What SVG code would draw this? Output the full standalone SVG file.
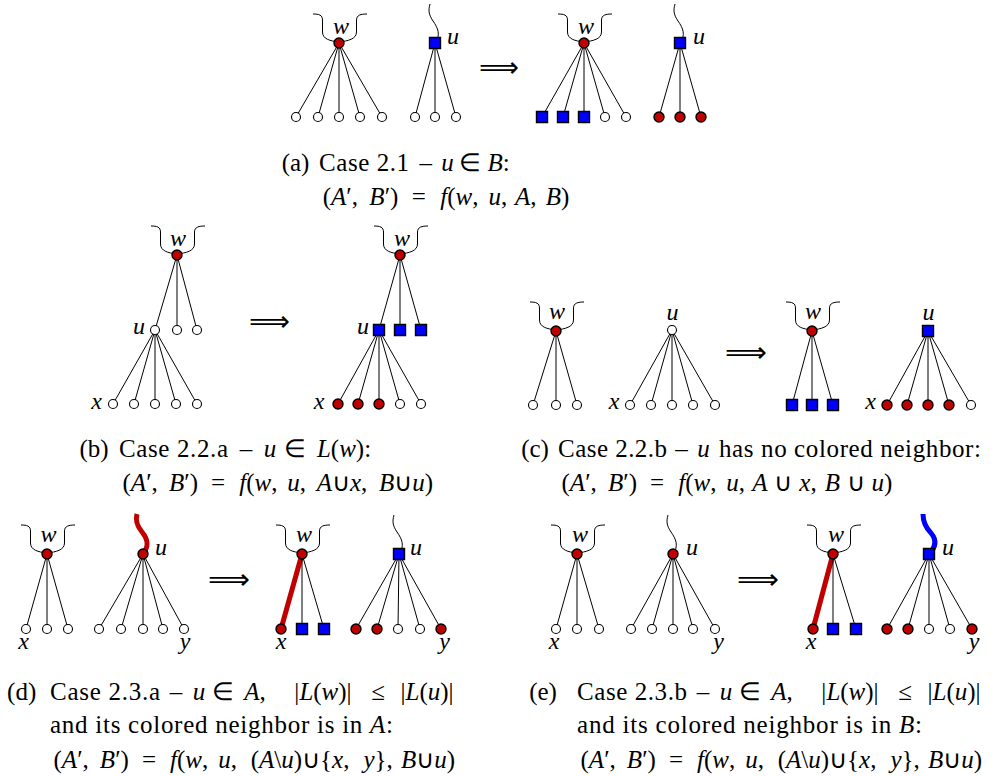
<svg xmlns="http://www.w3.org/2000/svg" width="995" height="776" viewBox="0 0 995 776">
<style>
.e{stroke:#000;stroke-width:1;fill:none}
.tr{stroke:#c00000;stroke-width:5;fill:none}
.tb{stroke:#0000ff;stroke-width:5;fill:none}
.br{stroke:#000;stroke-width:1;fill:none}
.R{fill:#c00000;stroke:#000;stroke-width:1.4}
.B{fill:#0000ff;stroke:#000;stroke-width:1.4}
.W{fill:#fff;stroke:#000;stroke-width:1.1}
.lab{font-family:"Liberation Serif",serif;font-style:italic;font-size:24px;text-anchor:middle;fill:#000}
.cap{font-family:"Liberation Serif",serif;font-size:25px;fill:#000}
.mid{text-anchor:middle}
.i{font-style:italic}
.arr{font-family:"DejaVu Sans",sans-serif;font-size:29px;fill:#000}
</style>
<defs>
<path id="brace" class="br" d="M-26,-29 C-20,-29 -16.5,-28 -16.5,-23 L-16.5,-11 C-16.5,-4 -9,-2 0,-1 C9,-2 17.5,-4 17.5,-11 L17.5,-23 C17.5,-28 22,-29 28,-29"/>
<path id="wavy" class="br" d="M-5,-39 C-7,-32 -6,-28 -2,-22 C3,-15 6,-8 0,0"/>
<path id="sq" d="M-5.5,-5.5 h11 v11 h-11 z"/>
</defs>

<g id="connectors">
<path class="e" d="M339,43 L296,117 M339,43 L318,117 M339,43 L339,117 M339,43 L360,117 M339,43 L382,117"/>
<path class="e" d="M435,43 L415,117 M435,43 L435,117 M435,43 L456,117"/>
<path class="e" d="M584,43 L542,117 M584,43 L563,117 M584,43 L584,117 M584,43 L605,117 M584,43 L626,117"/>
<path class="e" d="M680,43 L659,117 M680,43 L680,117 M680,43 L701,117"/>
<path class="e" d="M177,255 L155,330 M177,255 L177,330 M177,255 L197,330"/>
<path class="e" d="M155,330 L113,404 M155,330 L134,404 M155,330 L155,404 M155,330 L176,404 M155,330 L197,404"/>
<path class="e" d="M400,255 L379,330 M400,255 L400,330 M400,255 L421,330"/>
<path class="e" d="M379,330 L338,404 M379,330 L358,404 M379,330 L379,404 M379,330 L400,404 M379,330 L421,404"/>
<path class="e" d="M556,331 L533,405 M556,331 L556,405 M556,331 L577,405"/>
<path class="e" d="M672,330 L630,405 M672,330 L651,405 M672,330 L672,405 M672,330 L693,405 M672,330 L715,405"/>
<path class="e" d="M812,331 L792,405 M812,331 L812,405 M812,331 L833,405"/>
<path class="e" d="M928,331 L887,405 M928,331 L907,405 M928,331 L928,405 M928,331 L949,405 M928,331 L971,405"/>
<path class="e" d="M47,554 L26,629 M47,554 L47,629 M47,554 L68,629"/>
<path class="e" d="M143,554 L99,629 M143,554 L121,629 M143,554 L143,629 M143,554 L163,629 M143,554 L184,629"/>
<path class="tr" d="M302,554 L281,629"/>
<path class="e" d="M302,554 L302,629 M302,554 L324,629"/>
<path class="e" d="M399,554 L356,629 M399,554 L377,629 M399,554 L398,629 M399,554 L420,629 M399,554 L441,629"/>
<path class="e" d="M577,554 L556,629 M577,554 L577,629 M577,554 L599,629"/>
<path class="e" d="M673,554 L631,629 M673,554 L652,629 M673,554 L673,629 M673,554 L693,629 M673,554 L715,629"/>
<path class="tr" d="M833,554 L813,629"/>
<path class="e" d="M833,554 L833,629 M833,554 L856,629"/>
<path class="e" d="M929,554 L887,629 M929,554 L908,629 M929,554 L929,629 M929,554 L950,629 M929,554 L972,629"/>
<text class="arr" x="479" y="77" textLength="40" lengthAdjust="spacingAndGlyphs">⟹</text>
<text class="arr" x="249" y="331" textLength="41" lengthAdjust="spacingAndGlyphs">⟹</text>
<text class="arr" x="725" y="362" textLength="42" lengthAdjust="spacingAndGlyphs">⟹</text>
<text class="arr" x="208" y="589" textLength="42" lengthAdjust="spacingAndGlyphs">⟹</text>
<text class="arr" x="737" y="589" textLength="42" lengthAdjust="spacingAndGlyphs">⟹</text>
</g>

<g id="a-w1"><use href="#brace" x="339" y="43"/><circle class="R" cx="339" cy="43" r="5"/><text class="lab" x="341" y="33.5">w</text></g>
<g id="a-w1-leaves"><circle class="W" cx="296" cy="117" r="4.5"/><circle class="W" cx="318" cy="117" r="4.5"/><circle class="W" cx="339" cy="117" r="4.5"/><circle class="W" cx="360" cy="117" r="4.5"/><circle class="W" cx="382" cy="117" r="4.5"/></g>
<g id="a-u1"><use href="#wavy" x="435" y="43"/><use href="#sq" class="B" x="435" y="43"/><text class="lab" x="453" y="43.5">u</text></g>
<g id="a-u1-leaves"><circle class="W" cx="415" cy="117" r="4.5"/><circle class="W" cx="435" cy="117" r="4.5"/><circle class="W" cx="456" cy="117" r="4.5"/></g>
<g id="a-w2"><use href="#brace" x="584" y="43"/><circle class="R" cx="584" cy="43" r="5"/><text class="lab" x="586" y="33.5">w</text></g>
<g id="a-w2-leaves"><use href="#sq" class="B" x="542" y="117"/><use href="#sq" class="B" x="563" y="117"/><use href="#sq" class="B" x="584" y="117"/><circle class="W" cx="605" cy="117" r="4.5"/><circle class="W" cx="626" cy="117" r="4.5"/></g>
<g id="a-u2"><use href="#wavy" x="680" y="43"/><use href="#sq" class="B" x="680" y="43"/><text class="lab" x="699" y="43.5">u</text></g>
<g id="a-u2-leaves"><circle class="R" cx="659" cy="117" r="5"/><circle class="R" cx="680" cy="117" r="5"/><circle class="R" cx="701" cy="117" r="5"/></g>

<g id="b-w1"><use href="#brace" x="177" y="255"/><circle class="R" cx="177" cy="255" r="5"/><text class="lab" x="178" y="246">w</text></g>
<g id="b-u1"><circle class="W" cx="155" cy="330" r="4.5"/><text class="lab" x="139" y="333.5">u</text></g>
<g id="b-w1-leaves"><circle class="W" cx="177" cy="330" r="4.5"/><circle class="W" cx="197" cy="330" r="4.5"/></g>
<g id="b-u1-leaves"><circle class="W" cx="113" cy="404" r="4.5"/><circle class="W" cx="134" cy="404" r="4.5"/><circle class="W" cx="155" cy="404" r="4.5"/><circle class="W" cx="176" cy="404" r="4.5"/><circle class="W" cx="197" cy="404" r="4.5"/><text class="lab" x="96.5" y="409">x</text></g>
<g id="b-w2"><use href="#brace" x="400" y="255"/><circle class="R" cx="400" cy="255" r="5"/><text class="lab" x="402" y="246">w</text></g>
<g id="b-u2"><use href="#sq" class="B" x="379" y="330"/><text class="lab" x="363" y="333.5">u</text></g>
<g id="b-w2-leaves"><use href="#sq" class="B" x="400" y="330"/><use href="#sq" class="B" x="421" y="330"/></g>
<g id="b-u2-leaves"><circle class="R" cx="338" cy="404" r="5"/><circle class="R" cx="358" cy="404" r="5"/><circle class="R" cx="379" cy="404" r="5"/><circle class="W" cx="400" cy="404" r="4.5"/><circle class="W" cx="421" cy="404" r="4.5"/><text class="lab" x="319" y="409">x</text></g>

<g id="c-w1"><use href="#brace" x="556" y="331"/><circle class="R" cx="556" cy="331" r="5"/><text class="lab" x="557" y="319">w</text></g>
<g id="c-w1-leaves"><circle class="W" cx="533" cy="405" r="4.5"/><circle class="W" cx="556" cy="405" r="4.5"/><circle class="W" cx="577" cy="405" r="4.5"/></g>
<g id="c-u1"><circle class="W" cx="672" cy="330" r="4.5"/><text class="lab" x="672.5" y="319.5">u</text></g>
<g id="c-u1-leaves"><circle class="W" cx="630" cy="405" r="4.5"/><circle class="W" cx="651" cy="405" r="4.5"/><circle class="W" cx="672" cy="405" r="4.5"/><circle class="W" cx="693" cy="405" r="4.5"/><circle class="W" cx="715" cy="405" r="4.5"/><text class="lab" x="614" y="409">x</text></g>
<g id="c-w2"><use href="#brace" x="812" y="331"/><circle class="R" cx="812" cy="331" r="5"/><text class="lab" x="813" y="319">w</text></g>
<g id="c-w2-leaves"><use href="#sq" class="B" x="792" y="405"/><use href="#sq" class="B" x="812" y="405"/><use href="#sq" class="B" x="833" y="405"/></g>
<g id="c-u2"><use href="#sq" class="B" x="928" y="331"/><text class="lab" x="928.5" y="319.5">u</text></g>
<g id="c-u2-leaves"><circle class="R" cx="887" cy="405" r="5"/><circle class="R" cx="907" cy="405" r="5"/><circle class="R" cx="928" cy="405" r="5"/><circle class="R" cx="949" cy="405" r="5"/><circle class="W" cx="971" cy="405" r="4.5"/><text class="lab" x="870.5" y="409">x</text></g>

<g id="d-w1"><use href="#brace" x="47" y="554"/><circle class="R" cx="47" cy="554" r="5"/><text class="lab" x="48.5" y="541.5">w</text></g>
<g id="d-w1-leaves"><circle class="W" cx="26" cy="629" r="4.5"/><circle class="W" cx="47" cy="629" r="4.5"/><circle class="W" cx="68" cy="629" r="4.5"/><text class="lab" x="23.5" y="649">x</text></g>
<g id="d-u1"><path class="tr" d="M137,514 C135,521 137,526 142,532 C147,538 150,545 143,554"/><circle class="R" cx="143" cy="554" r="5"/><text class="lab" x="161" y="555">u</text></g>
<g id="d-u1-leaves"><circle class="W" cx="99" cy="629" r="4.5"/><circle class="W" cx="121" cy="629" r="4.5"/><circle class="W" cx="143" cy="629" r="4.5"/><circle class="W" cx="163" cy="629" r="4.5"/><circle class="W" cx="184" cy="629" r="4.5"/><text class="lab" x="185" y="649">y</text></g>
<g id="d-w2"><use href="#brace" x="302" y="554"/><circle class="R" cx="302" cy="554" r="5"/><text class="lab" x="304" y="541.5">w</text></g>
<g id="d-w2-leaves"><circle class="R" cx="281" cy="629" r="5"/><use href="#sq" class="B" x="302" y="629"/><use href="#sq" class="B" x="324" y="629"/><text class="lab" x="281" y="649">x</text></g>
<g id="d-u2"><use href="#wavy" x="399" y="554"/><use href="#sq" class="B" x="399" y="554"/><text class="lab" x="416" y="555">u</text></g>
<g id="d-u2-leaves"><circle class="R" cx="356" cy="629" r="5"/><circle class="R" cx="377" cy="629" r="5"/><circle class="W" cx="398" cy="629" r="4.5"/><circle class="W" cx="420" cy="629" r="4.5"/><circle class="R" cx="441" cy="629" r="5"/><text class="lab" x="444.5" y="649">y</text></g>

<g id="e-w1"><use href="#brace" x="577" y="554"/><circle class="R" cx="577" cy="554" r="5"/><text class="lab" x="580" y="541.5">w</text></g>
<g id="e-w1-leaves"><circle class="W" cx="556" cy="629" r="4.5"/><circle class="W" cx="577" cy="629" r="4.5"/><circle class="W" cx="599" cy="629" r="4.5"/><text class="lab" x="554" y="649">x</text></g>
<g id="e-u1"><use href="#wavy" x="673" y="554"/><circle class="R" cx="673" cy="554" r="5"/><text class="lab" x="692" y="555">u</text></g>
<g id="e-u1-leaves"><circle class="W" cx="631" cy="629" r="4.5"/><circle class="W" cx="652" cy="629" r="4.5"/><circle class="W" cx="673" cy="629" r="4.5"/><circle class="W" cx="693" cy="629" r="4.5"/><circle class="W" cx="715" cy="629" r="4.5"/><text class="lab" x="718.5" y="649">y</text></g>
<g id="e-w2"><use href="#brace" x="833" y="554"/><circle class="R" cx="833" cy="554" r="5"/><text class="lab" x="836" y="541.5">w</text></g>
<g id="e-w2-leaves"><circle class="R" cx="813" cy="629" r="5"/><use href="#sq" class="B" x="833" y="629"/><use href="#sq" class="B" x="856" y="629"/><text class="lab" x="811" y="649">x</text></g>
<g id="e-u2"><path class="tb" d="M923,514 C923,522 926,528 931,533 C936,539 937,546 929,554"/><use href="#sq" class="B" x="929" y="554"/><text class="lab" x="948" y="555">u</text></g>
<g id="e-u2-leaves"><circle class="R" cx="887" cy="629" r="5"/><circle class="R" cx="908" cy="629" r="5"/><circle class="W" cx="929" cy="629" r="4.5"/><circle class="W" cx="950" cy="629" r="4.5"/><circle class="R" cx="972" cy="629" r="5"/><text class="lab" x="974" y="649">y</text></g>

<g id="captions">
<text class="cap mid" x="295.5" y="171">(a)</text>
<text class="cap" x="319" y="171" textLength="90">Case 2.1</text>
<text class="cap mid" y="171"><tspan x="425.8">–</tspan><tspan x="447.6" class="i">u</tspan><tspan x="470.1">∈</tspan><tspan x="498.5"><tspan class="i">B</tspan>:</tspan></text>
<text class="cap mid" y="205"><tspan x="340.4">(<tspan class="i">A</tspan>′,</tspan><tspan x="383.9"><tspan class="i">B</tspan>′)</tspan><tspan x="418.8">=</tspan><tspan x="459.3"><tspan class="i">f</tspan>(<tspan class="i">w</tspan>,</tspan><tspan x="497.9"><tspan class="i">u</tspan>,</tspan><tspan x="525.8"><tspan class="i">A</tspan>,</tspan><tspan x="557.5"><tspan class="i">B</tspan>)</tspan></text>

<text class="cap mid" x="94" y="457">(b)</text>
<text class="cap" x="119" y="457" textLength="109">Case 2.2.a</text>
<text class="cap mid" y="457"><tspan x="246">–</tspan><tspan x="270" class="i">u</tspan><tspan x="295">∈</tspan><tspan x="344"><tspan class="i">L</tspan>(<tspan class="i">w</tspan>):</tspan></text>
<text class="cap mid" y="491"><tspan x="140.2">(<tspan class="i">A</tspan>′,</tspan><tspan x="183.5"><tspan class="i">B</tspan>′)</tspan><tspan x="218.1">=</tspan><tspan x="258.4"><tspan class="i">f</tspan>(<tspan class="i">w</tspan>,</tspan><tspan x="296.7"><tspan class="i">u</tspan>,</tspan><tspan x="342"><tspan class="i">A</tspan>∪<tspan class="i">x</tspan>,</tspan><tspan x="406"><tspan class="i">B</tspan>∪<tspan class="i">u</tspan>)</tspan></text>

<text class="cap mid" x="535" y="457">(c)</text>
<text class="cap" x="558" y="457" textLength="109">Case 2.2.b</text>
<text class="cap mid" y="457"><tspan x="681.6">–</tspan><tspan x="703.4" class="i">u</tspan></text>
<text class="cap" x="719" y="457" textLength="262">has no colored neighbor:</text>
<text class="cap mid" y="491"><tspan x="579.2">(<tspan class="i">A</tspan>′,</tspan><tspan x="622.5"><tspan class="i">B</tspan>′)</tspan><tspan x="657.1">=</tspan><tspan x="697.4"><tspan class="i">f</tspan>(<tspan class="i">w</tspan>,</tspan><tspan x="735.7"><tspan class="i">u</tspan>,</tspan><tspan x="760" class="i">A</tspan><tspan x="783.4">∪</tspan><tspan x="808"><tspan class="i">x</tspan>,</tspan><tspan x="832.4" class="i">B</tspan><tspan x="855.8">∪</tspan><tspan x="881.8"><tspan class="i">u</tspan>)</tspan></text>

<text class="cap mid" x="21.7" y="700">(d)</text>
<text class="cap" x="50" y="700" textLength="110">Case 2.3.a</text>
<text class="cap mid" y="700"><tspan x="176">–</tspan><tspan x="199" class="i">u</tspan><tspan x="223">∈</tspan><tspan x="255"><tspan class="i">A</tspan>,</tspan><tspan x="323">|<tspan class="i">L</tspan>(<tspan class="i">w</tspan>)|</tspan><tspan x="378">≤</tspan><tspan x="427">|<tspan class="i">L</tspan>(<tspan class="i">u</tspan>)|</tspan></text>
<text class="cap" x="50" y="733" textLength="343">and its colored neighbor is in <tspan class="i">A</tspan>:</text>
<text class="cap mid" y="768"><tspan x="71.2">(<tspan class="i">A</tspan>′,</tspan><tspan x="114.4"><tspan class="i">B</tspan>′)</tspan><tspan x="149">=</tspan><tspan x="189.1"><tspan class="i">f</tspan>(<tspan class="i">w</tspan>,</tspan><tspan x="227.5"><tspan class="i">u</tspan>,</tspan><tspan x="300.1">(<tspan class="i">A</tspan>\<tspan class="i">u</tspan>)∪{<tspan class="i">x</tspan>,</tspan><tspan x="378.1"><tspan class="i">y</tspan>},</tspan><tspan x="428.1"><tspan class="i">B</tspan>∪<tspan class="i">u</tspan>)</tspan></text>

<text class="cap mid" x="543" y="700">(e)</text>
<text class="cap" x="577" y="700" textLength="110">Case 2.3.b</text>
<text class="cap mid" y="700"><tspan x="703">–</tspan><tspan x="726" class="i">u</tspan><tspan x="750">∈</tspan><tspan x="782"><tspan class="i">A</tspan>,</tspan><tspan x="850">|<tspan class="i">L</tspan>(<tspan class="i">w</tspan>)|</tspan><tspan x="905">≤</tspan><tspan x="954">|<tspan class="i">L</tspan>(<tspan class="i">u</tspan>)|</tspan></text>
<text class="cap" x="577" y="733" textLength="345">and its colored neighbor is in <tspan class="i">B</tspan>:</text>
<text class="cap mid" y="768"><tspan x="598.2">(<tspan class="i">A</tspan>′,</tspan><tspan x="641.4"><tspan class="i">B</tspan>′)</tspan><tspan x="676">=</tspan><tspan x="716.1"><tspan class="i">f</tspan>(<tspan class="i">w</tspan>,</tspan><tspan x="754.5"><tspan class="i">u</tspan>,</tspan><tspan x="827.1">(<tspan class="i">A</tspan>\<tspan class="i">u</tspan>)∪{<tspan class="i">x</tspan>,</tspan><tspan x="905.1"><tspan class="i">y</tspan>},</tspan><tspan x="955.1"><tspan class="i">B</tspan>∪<tspan class="i">u</tspan>)</tspan></text>
</g>
</svg>
